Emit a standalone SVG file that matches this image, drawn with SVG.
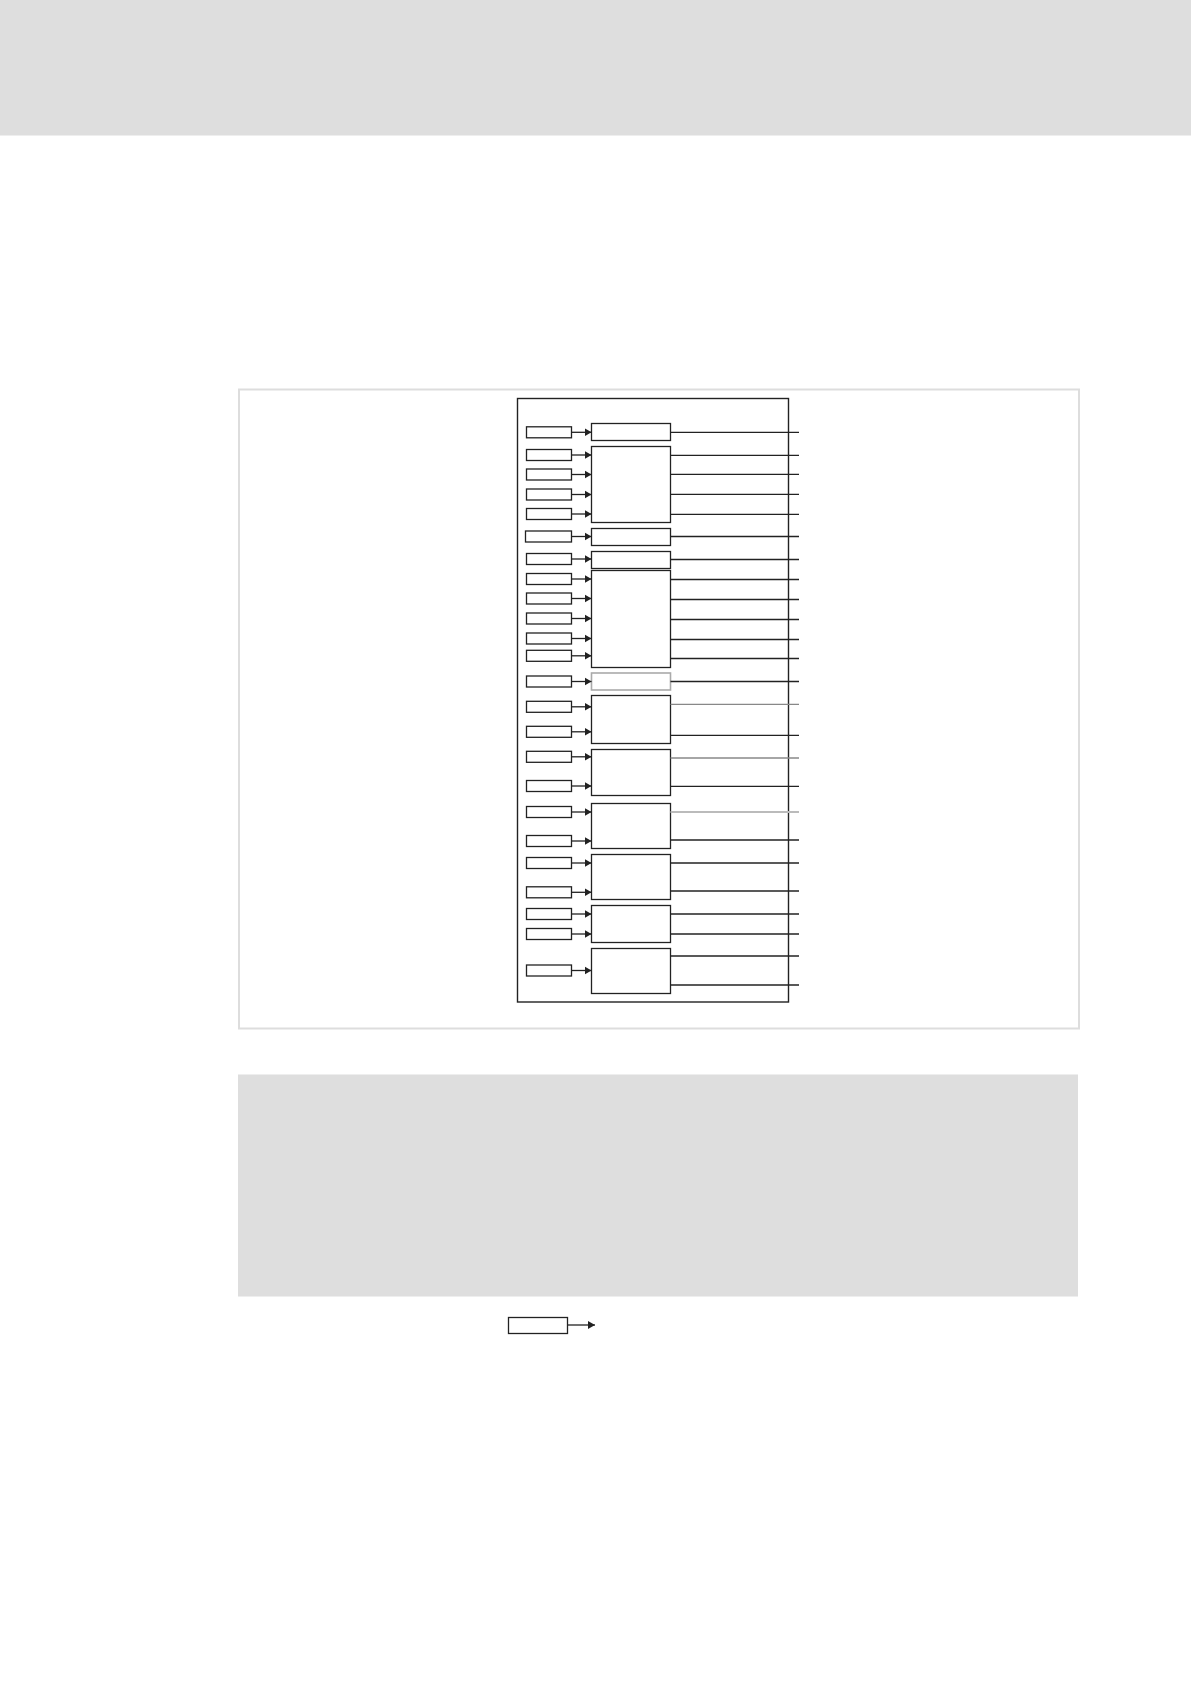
<svg xmlns="http://www.w3.org/2000/svg" width="1191" height="1685" viewBox="0 0 1191 1685">
<style>
.bg{fill:#ffffff}
.hdr{fill:#dedede}
.frame{fill:none;stroke:#dddddd;stroke-width:2}
.inner{fill:none;stroke:#222222;stroke-width:1.4}
.in{fill:#ffffff;stroke:#222222;stroke-width:1.3}
.blk{fill:#ffffff;stroke:#222222;stroke-width:1.3}
.blkg{fill:#ffffff;stroke:#aaaaaa;stroke-width:1.6}
.arr{stroke:#222222;stroke-width:1.3;fill:none;marker-end:url(#ah)}
.out{stroke:#222222;stroke-width:1.3;fill:none}
.outg{stroke:#888888;stroke-width:1.3;fill:none}
.outg2{stroke:#888888;stroke-width:1.6;fill:none}
.outl{stroke:#bbbbbb;stroke-width:2;fill:none}
</style>
<defs>
<marker id="ah" markerUnits="userSpaceOnUse" markerWidth="9" markerHeight="9" refX="7" refY="4.5" orient="auto">
<path d="M0,0.5 L7,4.5 L0,8.5 Z" fill="#222222"/>
</marker>
</defs>
<rect class="bg" x="0" y="0" width="1191" height="1685"/>
<rect class="hdr" x="0" y="0" width="1191" height="135.5"/>
<rect class="frame" x="239" y="389.5" width="840" height="639"/>
<rect class="hdr" x="238" y="1074.5" width="840" height="222"/>
<rect class="inner" x="517.5" y="398.5" width="271" height="603.5"/>

<g id="blocks">
<rect id="blkA" class="blk" x="591.5" y="423.5" width="79" height="17"/>
<rect id="blkB" class="blk" x="591.5" y="446.5" width="79" height="76"/>
<rect id="blkC" class="blk" x="591.5" y="528.5" width="79" height="17"/>
<rect id="blkD" class="blk" x="591.5" y="551.5" width="79" height="17"/>
<rect id="blkE" class="blk" x="591.5" y="570.5" width="79" height="97"/>
<rect id="blkF" class="blkg" x="591.5" y="673" width="79" height="17"/>
<rect id="blkG" class="blk" x="591.5" y="695.5" width="79" height="48"/>
<rect id="blkH" class="blk" x="591.5" y="749.5" width="79" height="46"/>
<rect id="blkI" class="blk" x="591.5" y="803.5" width="79" height="45"/>
<rect id="blkJ" class="blk" x="591.5" y="854.5" width="79" height="45"/>
<rect id="blkK" class="blk" x="591.5" y="905.5" width="79" height="37"/>
<rect id="blkL" class="blk" x="591.5" y="948.5" width="79" height="45"/>
</g>

<g id="inputs">
<rect id="in1" class="in" x="526.5" y="426.8" width="45" height="11"/>
<rect id="in2" class="in" x="526.5" y="449.5" width="45" height="11"/>
<rect id="in3" class="in" x="526.5" y="469" width="45" height="11"/>
<rect id="in4" class="in" x="526.5" y="489" width="45" height="11"/>
<rect id="in5" class="in" x="526.5" y="508.5" width="45" height="11"/>
<rect id="in6" class="in" x="525.5" y="531" width="46" height="11"/>
<rect id="in7" class="in" x="526.5" y="553.5" width="45" height="11"/>
<rect id="in8" class="in" x="526.5" y="573.5" width="45" height="11"/>
<rect id="in9" class="in" x="526.5" y="593" width="45" height="11"/>
<rect id="in10" class="in" x="526.5" y="613" width="45" height="11"/>
<rect id="in11" class="in" x="526.5" y="633" width="45" height="11"/>
<rect id="in12" class="in" x="526.5" y="650.3" width="45" height="11"/>
<rect id="in13" class="in" x="526.5" y="676" width="45" height="11"/>
<rect id="in14" class="in" x="526.5" y="701.3" width="45" height="11"/>
<rect id="in15" class="in" x="526.5" y="726.3" width="45" height="11"/>
<rect id="in16" class="in" x="526.5" y="751.3" width="45" height="11"/>
<rect id="in17" class="in" x="526.5" y="780.5" width="45" height="11"/>
<rect id="in18" class="in" x="526.5" y="806.5" width="45" height="11"/>
<rect id="in19" class="in" x="526.5" y="835.5" width="45" height="11"/>
<rect id="in20" class="in" x="526.5" y="857.5" width="45" height="11"/>
<rect id="in21" class="in" x="526.5" y="886.8" width="45" height="11"/>
<rect id="in22" class="in" x="526.5" y="908.5" width="45" height="11"/>
<rect id="in23" class="in" x="526.5" y="928.5" width="45" height="11"/>
<rect id="in24" class="in" x="526.5" y="965" width="45" height="11"/>
</g>

<g id="connectors">
<line class="arr" x1="571.5" y1="432.3" x2="591.5" y2="432.3"/>
<line class="arr" x1="571.5" y1="455" x2="591.5" y2="455"/>
<line class="arr" x1="571.5" y1="474.5" x2="591.5" y2="474.5"/>
<line class="arr" x1="571.5" y1="494.5" x2="591.5" y2="494.5"/>
<line class="arr" x1="571.5" y1="514" x2="591.5" y2="514"/>
<line class="arr" x1="571.5" y1="536.5" x2="591.5" y2="536.5"/>
<line class="arr" x1="571.5" y1="559" x2="591.5" y2="559"/>
<line class="arr" x1="571.5" y1="579" x2="591.5" y2="579"/>
<line class="arr" x1="571.5" y1="598.5" x2="591.5" y2="598.5"/>
<line class="arr" x1="571.5" y1="618.5" x2="591.5" y2="618.5"/>
<line class="arr" x1="571.5" y1="638.5" x2="591.5" y2="638.5"/>
<line class="arr" x1="571.5" y1="655.8" x2="591.5" y2="655.8"/>
<line class="arr" x1="571.5" y1="681.5" x2="591.5" y2="681.5"/>
<line class="arr" x1="571.5" y1="706.8" x2="591.5" y2="706.8"/>
<line class="arr" x1="571.5" y1="731.8" x2="591.5" y2="731.8"/>
<line class="arr" x1="571.5" y1="756.8" x2="591.5" y2="756.8"/>
<line class="arr" x1="571.5" y1="786" x2="591.5" y2="786"/>
<line class="arr" x1="571.5" y1="812" x2="591.5" y2="812"/>
<line class="arr" x1="571.5" y1="841" x2="591.5" y2="841"/>
<line class="arr" x1="571.5" y1="863" x2="591.5" y2="863"/>
<line class="arr" x1="571.5" y1="892.3" x2="591.5" y2="892.3"/>
<line class="arr" x1="571.5" y1="914" x2="591.5" y2="914"/>
<line class="arr" x1="571.5" y1="934" x2="591.5" y2="934"/>
<line class="arr" x1="571.5" y1="970.5" x2="591.5" y2="970.5"/>

<line class="out" x1="670.5" y1="432.3" x2="799" y2="432.3"/>
<line class="out" x1="670.5" y1="455.3" x2="799" y2="455.3"/>
<line class="out" x1="670.5" y1="474.3" x2="799" y2="474.3"/>
<line class="out" x1="670.5" y1="494.3" x2="799" y2="494.3"/>
<line class="out" x1="670.5" y1="514.3" x2="799" y2="514.3"/>
<line class="out" x1="670.5" y1="536.5" x2="799" y2="536.5"/>
<line class="out" x1="670.5" y1="559.5" x2="799" y2="559.5"/>
<line class="out" x1="670.5" y1="579.5" x2="799" y2="579.5"/>
<line class="out" x1="670.5" y1="599.5" x2="799" y2="599.5"/>
<line class="out" x1="670.5" y1="619.5" x2="799" y2="619.5"/>
<line class="out" x1="670.5" y1="639.5" x2="799" y2="639.5"/>
<line class="out" x1="670.5" y1="658.5" x2="799" y2="658.5"/>
<line class="out" x1="670.5" y1="681.5" x2="799" y2="681.5"/>
<line class="outg" x1="670.5" y1="704.3" x2="799" y2="704.3"/>
<line class="out" x1="670.5" y1="735.3" x2="799" y2="735.3"/>
<line class="outg2" x1="670.5" y1="758" x2="799" y2="758"/>
<line class="out" x1="670.5" y1="786.3" x2="799" y2="786.3"/>
<line class="outl" x1="670.5" y1="812" x2="799" y2="812"/>
<line class="out" x1="670.5" y1="840" x2="799" y2="840"/>
<line class="out" x1="670.5" y1="863" x2="799" y2="863"/>
<line class="out" x1="670.5" y1="891" x2="799" y2="891"/>
<line class="out" x1="670.5" y1="914" x2="799" y2="914"/>
<line class="out" x1="670.5" y1="934" x2="799" y2="934"/>
<line class="out" x1="670.5" y1="956" x2="799" y2="956"/>
<line class="out" x1="670.5" y1="985" x2="799" y2="985"/>
</g>

<g id="legend">
<rect id="legendBox" class="in" x="508.5" y="1317.5" width="59" height="16"/>
<line class="arr" x1="567.5" y1="1325" x2="595" y2="1325"/>
</g>
</svg>
